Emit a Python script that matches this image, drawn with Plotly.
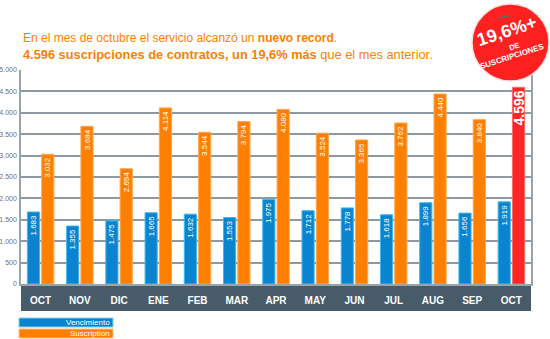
import plotly.graph_objects as go

months = ["OCT", "NOV", "DIC", "ENE", "FEB", "MAR", "APR", "MAY", "JUN", "JUL", "AUG", "SEP", "OCT"]
vencimiento = [1683, 1355, 1475, 1665, 1632, 1553, 1975, 1712, 1778, 1618, 1899, 1656, 1919]
suscription = [3032, 3684, 2694, 4114, 3544, 3794, 4080, 3524, 3365, 3762, 4440, 3840, 4596]
y_ticks = [0, 500, 1000, 1500, 2000, 2500, 3000, 3500, 4000, 4500, 5000]

BLUE = "#0a84cf"
ORANGE = "#ff8000"
RED = "#ff2626"
FONT = "Arial, Liberation Sans, sans-serif"

xs = list(range(len(months)))
n = len(months)
orange_colors = [ORANGE] * (n - 1) + [RED]
orange_lines = ["#ffa650"] * (n - 1) + ["#ff6a6a"]
orange_sizes = [8] * (n - 1) + [14]
orange_tmpl = ["%{y:,}"] * (n - 1) + ["<b>%{y:,}</b>"]

fig = go.Figure()
fig.add_trace(go.Bar(
    x=xs, y=vencimiento, name="Vencimiento",
    marker=dict(color=BLUE, line=dict(color="#3fb8f0", width=1)),
    texttemplate="%{y:,}", textposition="inside", insidetextanchor="end",
    textangle=-90, textfont=dict(color="white", size=8, family=FONT),
    cliponaxis=False,
))
fig.add_trace(go.Bar(
    x=xs, y=suscription, name="Suscription",
    marker=dict(color=orange_colors, line=dict(color=orange_lines, width=1)),
    texttemplate=orange_tmpl, textposition="inside", insidetextanchor="end",
    textangle=-90, textfont=dict(color="white", size=orange_sizes, family=FONT),
    cliponaxis=False,
))

L, R, T, B = 21, 19, 70, 55
W, H = 550, 339
pw, ph = W - L - R, H - T - B


def px(xp):
    return (xp - L) / pw


def py(yp):
    return (H - B - yp) / ph


shapes = [
    dict(type="rect", xref="paper", yref="paper", x0=0, x1=1, y0=py(311), y1=0,
         fillcolor="#475b68", line=dict(width=0), layer="below"),
    dict(type="rect", xref="paper", yref="paper", x0=px(19), x1=px(113), y0=py(327), y1=py(318),
         fillcolor=BLUE, line=dict(color="#7fd0f5", width=1)),
    dict(type="rect", xref="paper", yref="paper", x0=px(19), x1=px(113), y0=py(338), y1=py(329),
         fillcolor=ORANGE, line=dict(color="#ffc080", width=1)),
    dict(type="circle", xref="paper", yref="paper", x0=px(472), x1=px(549), y0=py(81), y1=py(4),
         fillcolor="#ff2020", line=dict(color="#f4e0e0", width=1.5), layer="above"),
    dict(type="line", xref="paper", yref="paper", x0=px(497), x1=px(509), y0=py(18), y1=py(16),
         line=dict(color="#7a6060", width=1.5), layer="above"),
]

annotations = [
    dict(xref="paper", yref="paper", x=px(112), y=py(322.5), xanchor="right", yanchor="middle",
         text="Vencimiento", showarrow=False, font=dict(color="white", size=8, family=FONT)),
    dict(xref="paper", yref="paper", x=px(112), y=py(333.5), xanchor="right", yanchor="middle",
         text="Suscription", showarrow=False, font=dict(color="white", size=8, family=FONT)),
    dict(xref="paper", yref="paper", x=px(22), y=py(45.5), xanchor="left", yanchor="bottom",
         text="En el mes de octubre el servicio alcanzó un <b>nuevo record</b>.",
         showarrow=False, borderpad=0, font=dict(color=ORANGE, size=12, family=FONT)),
    dict(xref="paper", yref="paper", x=px(22), y=py(45.5), xanchor="left", yanchor="top",
         text="<b>4.596 suscripciones de contratos, un 19,6% más</b> que el mes anterior.",
         showarrow=False, borderpad=0, font=dict(color=ORANGE, size=12.8, family=FONT)),
    dict(xref="paper", yref="paper", x=px(507), y=py(31), xanchor="center", yanchor="middle",
         text="<b>19,6%+</b>", textangle=-18, showarrow=False, borderpad=0,
         font=dict(color="white", size=18, family=FONT)),
    dict(xref="paper", yref="paper", x=px(514), y=py(46), xanchor="center", yanchor="middle",
         text="<b>DE</b>", textangle=-18, showarrow=False, borderpad=0,
         font=dict(color="white", size=7.5, family=FONT)),
    dict(xref="paper", yref="paper", x=px(512), y=py(57), xanchor="center", yanchor="middle",
         text="<b>SUSCRIPCIONES</b>", textangle=-18, showarrow=False, borderpad=0,
         font=dict(color="white", size=8, family=FONT)),
]

fig.update_layout(
    width=W, height=H,
    margin=dict(l=L, r=R, t=T, b=B, pad=0, autoexpand=False),
    paper_bgcolor="white", plot_bgcolor="white",
    barmode="group", bargap=0.27, bargroupgap=0.15,
    separators=",.",
    showlegend=False,
    uniformtext=dict(minsize=7, mode="show"),
    shapes=shapes, annotations=annotations,
    font=dict(family=FONT),
    xaxis=dict(
        tickvals=xs, ticktext=["<b>%s</b>" % m for m in months], range=[-0.5, n - 0.5],
        showgrid=False, zeroline=False, showline=True, linecolor="#9aa3aa", linewidth=1.5,
        ticks="outside", ticklen=6, tickcolor="rgba(0,0,0,0)", automargin=False,
        tickfont=dict(color="white", size=10, family=FONT),
        fixedrange=True,
    ),
    yaxis=dict(
        range=[0, 5000], tickvals=y_ticks, tickformat=",",
        showgrid=True, gridcolor="#8e99a2", gridwidth=1.6, automargin=False,
        zeroline=False, showline=True, linecolor="#9aa3aa", linewidth=1.5, mirror=True,
        ticks="", tickfont=dict(color="#707070", size=7, family=FONT),
        ticklabelstandoff=1,
    ),
)

fig.write_html("out.html")
